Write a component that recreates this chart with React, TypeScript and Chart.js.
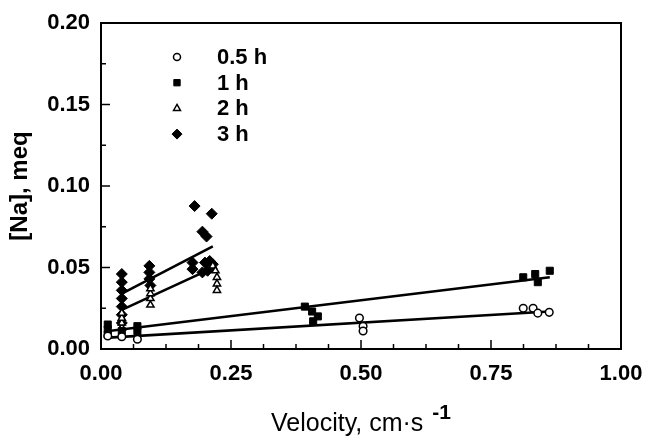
import React, { useEffect, useRef } from 'react';
import { Chart, registerables } from 'chart.js';

Chart.register(...registerables);

// ---- data ----
const seriesLabels = ['0.5 h', '1 h', '2 h', '3 h'];

const halfHourVelocity = [0.013, 0.04, 0.07, 0.497, 0.504, 0.504, 0.812, 0.831, 0.84, 0.862];
const halfHourNa = [0.008, 0.0075, 0.006, 0.019, 0.014, 0.011, 0.025, 0.025, 0.022, 0.0225];

const oneHourVelocity = [0.013, 0.013, 0.013, 0.04, 0.07, 0.07, 0.392, 0.406, 0.417, 0.408, 0.812, 0.835, 0.84, 0.863];
const oneHourNa = [0.015, 0.012, 0.009, 0.011, 0.014, 0.011, 0.026, 0.023, 0.02, 0.017, 0.044, 0.046, 0.041, 0.048];

const twoHourVelocity = [0.04, 0.04, 0.04, 0.04, 0.095, 0.095, 0.095, 0.095, 0.215, 0.22, 0.223, 0.223, 0.223];
const twoHourNa = [0.013, 0.016, 0.019, 0.022, 0.027, 0.031, 0.034, 0.037, 0.051, 0.048, 0.044, 0.04, 0.036];

const threeHourVelocity = [0.04, 0.04, 0.04, 0.04, 0.04, 0.04, 0.04, 0.093, 0.093, 0.093, 0.095, 0.176, 0.176, 0.18, 0.195, 0.2, 0.203, 0.195, 0.209, 0.213, 0.215, 0.205];
const threeHourNa = [0.046, 0.041, 0.036, 0.031, 0.026, 0.021, 0.016, 0.051, 0.047, 0.043, 0.039, 0.053, 0.049, 0.0877, 0.072, 0.053, 0.069, 0.047, 0.054, 0.083, 0.052, 0.048];

// regression line end points
const fitHalfHourVelocity = [0.015, 0.862];
const fitHalfHourNa = [0.007, 0.023];
const fitOneHourVelocity = [0.015, 0.863];
const fitOneHourNa = [0.011, 0.044];
const fitTwoHourVelocity = [0.04, 0.21];
const fitTwoHourNa = [0.024, 0.049];
const fitThreeHourVelocity = [0.04, 0.215];
const fitThreeHourNa = [0.034, 0.063];

const xMajorStep = 0.25;
const xMinorStep = 0.0625;
const yMajorStep = 0.05;
const yMinorStep = 0.025;

const xTitleMain = 'Velocity, cm·s';
const xTitleSup = '-1';
const yTitle = '[Na], meq';

const FONT = "'Liberation Sans', Arial, Helvetica, sans-serif";

const zip = (xs: number[], ys: number[]) => xs.map((x, i) => ({ x, y: ys[i] }));
const isMultiple = (v: number, step: number) => Math.abs(v / step - Math.round(v / step)) < 1e-6;

function drawSymbol(ctx: CanvasRenderingContext2D, style: string, x: number, y: number, r: number) {
  ctx.beginPath();
  if (style === 'circle') {
    ctx.arc(x, y, r, 0, Math.PI * 2);
  } else if (style === 'rect') {
    const s = r * Math.SQRT1_2;
    ctx.rect(x - s, y - s, 2 * s, 2 * s);
  } else if (style === 'triangle') {
    ctx.moveTo(x, y - r);
    ctx.lineTo(x + r * 0.866, y + r * 0.5);
    ctx.lineTo(x - r * 0.866, y + r * 0.5);
    ctx.closePath();
  } else if (style === 'rectRot') {
    ctx.moveTo(x, y - r);
    ctx.lineTo(x + r, y);
    ctx.lineTo(x, y + r);
    ctx.lineTo(x - r, y);
    ctx.closePath();
  }
  ctx.fill();
  ctx.stroke();
}

const frameTicksPlugin = {
  id: 'frameTicks',
  beforeDatasetsDraw(chart: any) {
    const { ctx, chartArea } = chart;
    const { left, right, top, bottom } = chartArea;
    ctx.save();
    ctx.strokeStyle = '#000';
    ctx.lineWidth = 2;
    ctx.strokeRect(left, top, right - left, bottom - top);
    ctx.lineWidth = 1.5;
    const xs = chart.scales.x;
    xs.ticks.forEach((t: any) => {
      const px = xs.getPixelForValue(t.value);
      const len = isMultiple(t.value, xMajorStep) ? 9 : 5;
      ctx.beginPath();
      ctx.moveTo(px, bottom);
      ctx.lineTo(px, bottom - len);
      ctx.stroke();
    });
    const ys = chart.scales.y;
    ys.ticks.forEach((t: any) => {
      const py = ys.getPixelForValue(t.value);
      const len = isMultiple(t.value, yMajorStep) ? 9 : 5;
      ctx.beginPath();
      ctx.moveTo(left, py);
      ctx.lineTo(left + len, py);
      ctx.stroke();
    });
    ctx.restore();
  },
};

const legendPlugin = {
  id: 'insideLegend',
  afterDatasetsDraw(chart: any) {
    const { ctx } = chart;
    ctx.save();
    const symbolX = 177;
    const textX = 217;
    const rowY0 = 57;
    const rowGap = 25.7;
    const legendRadius = [3.5, 4.5, 4, 5];
    seriesLabels.forEach((label, i) => {
      const ds = chart.data.datasets[i];
      const y = rowY0 + i * rowGap;
      ctx.fillStyle = ds.pointBackgroundColor;
      ctx.strokeStyle = ds.pointBorderColor;
      ctx.lineWidth = ds.pointBorderWidth;
      drawSymbol(ctx, ds.pointStyle, symbolX, y, legendRadius[i]);
      ctx.fillStyle = '#000';
      ctx.font = `bold 22px ${FONT}`;
      ctx.textAlign = 'left';
      ctx.textBaseline = 'middle';
      ctx.fillText(label, textX, y + 1);
    });
    ctx.restore();
  },
};

const xTitlePlugin = {
  id: 'xTitle',
  afterDraw(chart: any) {
    const { ctx, chartArea } = chart;
    ctx.save();
    ctx.fillStyle = '#000';
    const mainFont = `25px ${FONT}`;
    const supFont = `bold 21px ${FONT}`;
    ctx.font = mainFont;
    const w1 = ctx.measureText(xTitleMain).width;
    ctx.font = supFont;
    const w2 = ctx.measureText(xTitleSup).width;
    const gap = 9;
    const total = w1 + gap + w2;
    const cx = (chartArea.left + chartArea.right) / 2;
    const startX = cx - total / 2;
    ctx.textAlign = 'left';
    ctx.textBaseline = 'alphabetic';
    ctx.font = mainFont;
    ctx.fillText(xTitleMain, startX, 431);
    ctx.font = supFont;
    ctx.fillText(xTitleSup, startX + w1 + gap, 419);
    ctx.restore();
  },
};

export default function App() {
  const canvasRef = useRef<HTMLCanvasElement | null>(null);

  useEffect(() => {
    if (!canvasRef.current) return;
    const pointDs = (label: string, data: any[], style: string, radius: number, filled: boolean) => ({
      type: 'scatter' as const,
      label,
      data,
      pointStyle: style,
      pointRadius: radius,
      pointHoverRadius: radius,
      pointBackgroundColor: filled ? '#000' : '#fff',
      pointBorderColor: '#000',
      pointBorderWidth: filled ? 1 : 1.5,
      backgroundColor: filled ? '#000' : '#fff',
      borderColor: '#000',
      showLine: false,
      order: 1,
    });
    const fitDs = (label: string, data: any[]) => ({
      type: 'line' as const,
      label,
      data,
      borderColor: '#000',
      borderWidth: 2.6,
      pointRadius: 0,
      showLine: true,
      fill: false,
      order: 2,
    });

    const chart = new Chart(canvasRef.current, {
      type: 'scatter',
      data: {
        datasets: [
          pointDs(seriesLabels[0], zip(halfHourVelocity, halfHourNa), 'circle', 3.8, false),
          pointDs(seriesLabels[1], zip(oneHourVelocity, oneHourNa), 'rect', 5, true),
          pointDs(seriesLabels[2], zip(twoHourVelocity, twoHourNa), 'triangle', 4.2, false),
          pointDs(seriesLabels[3], zip(threeHourVelocity, threeHourNa), 'rectRot', 5.5, true),
          fitDs('fit 0.5 h', zip(fitHalfHourVelocity, fitHalfHourNa)),
          fitDs('fit 1 h', zip(fitOneHourVelocity, fitOneHourNa)),
          fitDs('fit 2 h', zip(fitTwoHourVelocity, fitTwoHourNa)),
          fitDs('fit 3 h', zip(fitThreeHourVelocity, fitThreeHourNa)),
        ] as any,
      },
      options: {
        animation: false,
        responsive: true,
        maintainAspectRatio: false,
        layout: { padding: { left: 0, right: 26, top: 23, bottom: 0 } },
        plugins: {
          legend: { display: false },
          tooltip: { enabled: false },
        },
        scales: {
          x: {
            type: 'linear',
            min: 0,
            max: 1,
            afterFit: (scale: any) => {
              scale.height = 90;
              scale.paddingLeft = 0;
              scale.paddingRight = 0;
            },
            ticks: {
              stepSize: xMinorStep,
              autoSkip: false,
              maxRotation: 0,
              padding: 12,
              color: '#000',
              font: { family: FONT, size: 22, weight: 'bold' },
              callback: (v: any) => (isMultiple(Number(v), xMajorStep) ? Number(v).toFixed(2) : ''),
            },
            grid: { display: false, drawTicks: false },
            border: { display: false },
          },
          y: {
            type: 'linear',
            min: 0,
            max: 0.2,
            afterFit: (scale: any) => {
              scale.width = 101;
              scale.paddingTop = 0;
              scale.paddingBottom = 0;
            },
            ticks: {
              stepSize: yMinorStep,
              autoSkip: false,
              padding: 11,
              color: '#000',
              font: { family: FONT, size: 22, weight: 'bold' },
              callback: (v: any) => (isMultiple(Number(v), yMajorStep) ? Number(v).toFixed(2) : ''),
            },
            grid: { display: false, drawTicks: false },
            border: { display: false },
            title: {
              display: true,
              text: yTitle,
              color: '#000',
              font: { family: FONT, size: 24, weight: 'bold' },
              padding: { top: 6, bottom: 0 },
            },
          },
        },
      } as any,
      plugins: [frameTicksPlugin, legendPlugin, xTitlePlugin],
    });
    return () => chart.destroy();
  }, []);

  return (
    <div style={{ position: 'absolute', left: 0, top: 0, width: 647, height: 439, background: '#fff' }}>
      <canvas ref={canvasRef} />
    </div>
  );
}
